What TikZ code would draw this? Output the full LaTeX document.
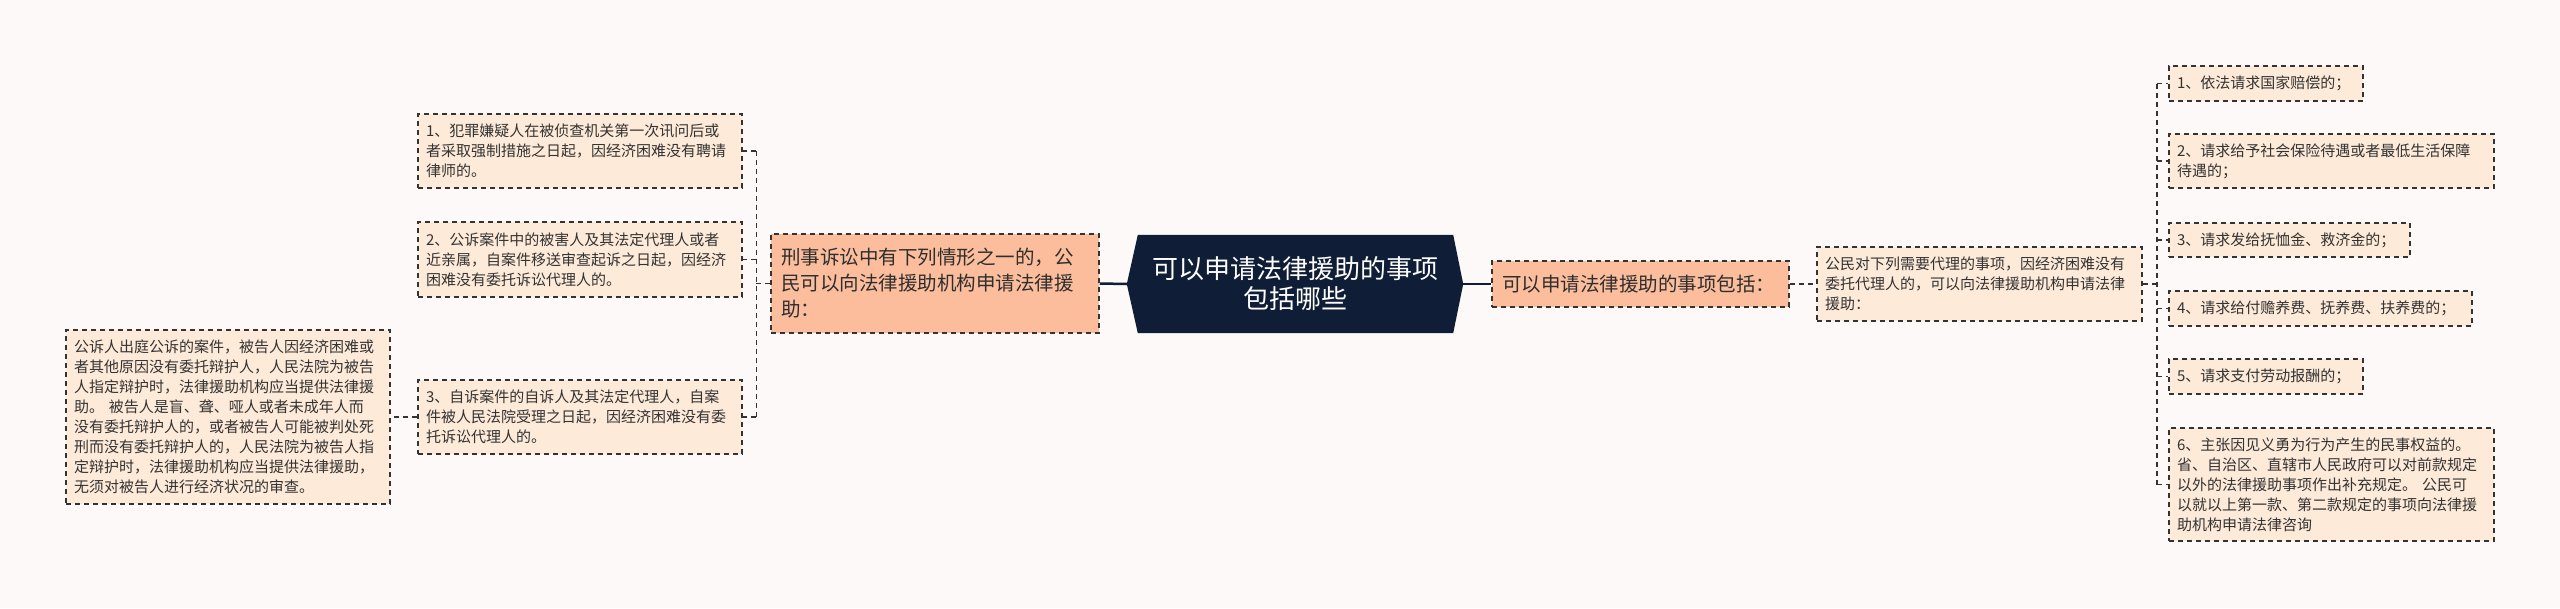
\documentclass[tikz,border=0pt]{standalone}
\usepackage{fontspec}
\usetikzlibrary{calc}
\newfontfamily\cjk{Noto Sans CJK SC}
\pgfdeclarelayer{bg}
\pgfsetlayers{bg,main}
\definecolor{pagebg}{HTML}{FCF9F8}
\definecolor{beige}{HTML}{FDEAD8}
\definecolor{salmon}{HTML}{FBBD9C}
\definecolor{navy}{HTML}{0F1E36}
\definecolor{ink}{HTML}{333333}
\tikzset{
  dashborder/.style={draw=ink, line width=1.5pt, dash pattern=on 5pt off 4pt},
  leaf/.style={dashborder, fill=beige, text=ink, align=left, inner xsep=8pt, inner ysep=0pt,
    font=\cjk\fontsize{15}{20}\selectfont},
  branch/.style={dashborder, fill=salmon, text=ink!90!black, align=left, inner xsep=10pt, inner ysep=0pt,
    font=\cjk\fontsize{19.5}{26}\selectfont},
  rootnode/.style={text=white, align=center, inner sep=0pt,
    font=\cjk\fontsize{26}{30}\selectfont},
  conn/.style={draw=ink, line width=1.5pt, dash pattern=on 5pt off 4pt},
  solidconn/.style={draw=navy, line width=2.5pt},
}
\begin{document}
\begin{tikzpicture}[x=1pt,y=-1pt]
\useasboundingbox (0,0) rectangle (2560,608);
\begin{pgfonlayer}{bg}
\fill[pagebg] (0,0) rectangle (2560,608);
\end{pgfonlayer}

% root
\node[rootnode, minimum width=336pt, minimum height=98pt] (c) at (1295,284)
  {可以申请法律援助的事项\\包括哪些};
\begin{pgfonlayer}{bg}
\fill[navy] (c.west) -- ($(c.north west)+(11,0)$) -- ($(c.north east)+(-10,0)$) -- (c.east)
  -- ($(c.south east)+(-10,0)$) -- ($(c.south west)+(11,0)$) -- cycle;
\end{pgfonlayer}

% left branch
\node[branch, text width=308pt, minimum height=99pt] (lo) at (935,283.5)
  {刑事诉讼中有下列情形之一的，公\\民可以向法律援助机构申请法律援\\助：};
\node[leaf, text width=308pt, minimum height=74pt] (l1) at (580,151)
  {1、犯罪嫌疑人在被侦查机关第一次讯问后或\\者采取强制措施之日起，因经济困难没有聘请\\律师的。};
\node[leaf, text width=308pt, minimum height=75pt] (l2) at (580,259.5)
  {2、公诉案件中的被害人及其法定代理人或者\\近亲属，自案件移送审查起诉之日起，因经济\\困难没有委托诉讼代理人的。};
\node[leaf, text width=308pt, minimum height=74pt] (l3) at (580,417)
  {3、自诉案件的自诉人及其法定代理人，自案\\件被人民法院受理之日起，因经济困难没有委\\托诉讼代理人的。};
\node[leaf, text width=308pt, minimum height=174pt] (ll) at (228,417)
  {公诉人出庭公诉的案件，被告人因经济困难或\\者其他原因没有委托辩护人，人民法院为被告\\人指定辩护时，法律援助机构应当提供法律援\\助。 被告人是盲、聋、哑人或者未成年人而\\没有委托辩护人的，或者被告人可能被判处死\\刑而没有委托辩护人的，人民法院为被告人指\\定辩护时，法律援助机构应当提供法律援助，\\无须对被告人进行经济状况的审查。};

% right branch
\node[branch, text width=277pt, minimum height=46pt] (ro) at (1640.5,284)
  {可以申请法律援助的事项包括：};
\node[leaf, text width=309pt, minimum height=74pt] (m) at (1979.5,284)
  {公民对下列需要代理的事项，因经济困难没有\\委托代理人的，可以向法律援助机构申请法律\\援助：};
\node[leaf, text width=178pt, minimum height=35pt] (r1) at (2266,83.5)
  {1、依法请求国家赔偿的；};
\node[leaf, text width=309pt, minimum height=54pt] (r2) at (2331.5,161)
  {2、请求给予社会保险待遇或者最低生活保障\\待遇的；};
\node[leaf, text width=225pt, minimum height=34pt] (r3) at (2289.5,240)
  {3、请求发给抚恤金、救济金的；};
\node[leaf, text width=287pt, minimum height=35pt] (r4) at (2320.5,308.5)
  {4、请求给付赡养费、抚养费、扶养费的；};
\node[leaf, text width=178pt, minimum height=35pt] (r5) at (2266,376.5)
  {5、请求支付劳动报酬的；};
\node[leaf, text width=309pt, minimum height=113pt] (r6) at (2331.5,484.5)
  {6、主张因见义勇为行为产生的民事权益的。\\省、自治区、直辖市人民政府可以对前款规定\\以外的法律援助事项作出补充规定。 公民可\\以就以上第一款、第二款规定的事项向法律援\\助机构申请法律咨询};

% connectors
\draw[solidconn] (c.west) -- (lo.east);
\draw[solidconn] (c.east) -- (ro.west);
\coordinate (lj) at ($(lo.west)+(-14,0)$);
\draw[conn] (lo.west) -- (lj);
\draw[conn] (lj |- l1.east) -- (lj |- l3.east);
\draw[conn] (lj |- l1.east) -- (l1.east);
\draw[conn] (lj |- l2.east) -- (l2.east);
\draw[conn] (lj |- l3.east) -- (l3.east);
\draw[conn] (l3.west) -- (ll.east);
\draw[conn] (ro.east) -- (m.west);
\coordinate (rj) at ($(m.east)+(14,0)$);
\draw[conn] (m.east) -- (rj);
\draw[conn] (rj |- r1.west) -- (rj |- r6.west);
\draw[conn] (rj |- r1.west) -- (r1.west);
\draw[conn] (rj |- r2.west) -- (r2.west);
\draw[conn] (rj |- r3.west) -- (r3.west);
\draw[conn] (rj |- r4.west) -- (r4.west);
\draw[conn] (rj |- r5.west) -- (r5.west);
\draw[conn] (rj |- r6.west) -- (r6.west);
\end{tikzpicture}
\end{document}
